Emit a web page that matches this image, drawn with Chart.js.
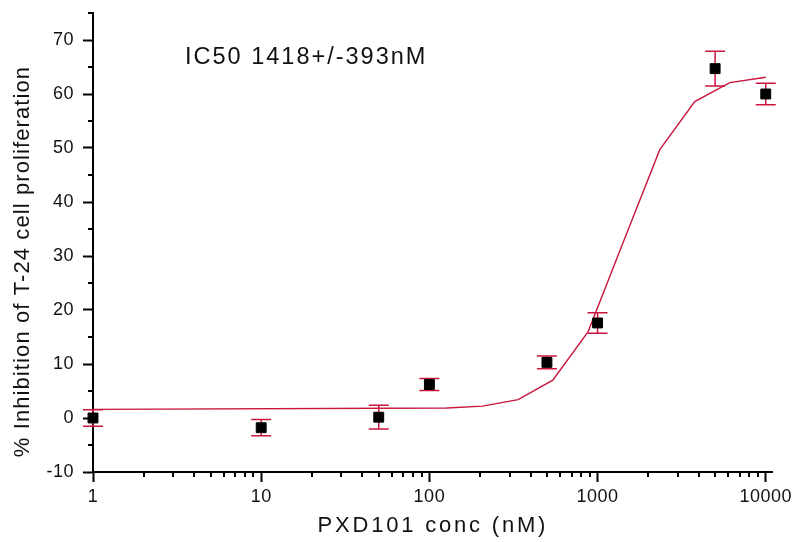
<!DOCTYPE html>
<html><head><meta charset="utf-8">
<script src="https://cdn.jsdelivr.net/npm/chart.js@4.4.1/dist/chart.umd.min.js"></script>
<style>html,body{margin:0;padding:0;background:#fff;overflow:hidden}#wrap{width:795px;height:542px;position:relative}canvas{display:block}</style>
</head><body><div id="wrap"><canvas id="c" width="795" height="542" style="width:795px;height:542px"></canvas></div>
<script>
// ---- data ----
const concentrations = [1, 10, 50, 100, 500, 1000, 5000, 10000];
const inhibition     = [0.0, -1.8, 0.15, 6.2, 10.3, 17.6, 64.7, 60.0];
const inhibitionErr  = [1.55, 1.5, 2.2, 1.1, 1.2, 1.9, 3.2, 2.0];
const fitX = [1, 127, 207, 337, 542, 879, 1440, 2344, 3785, 6110, 10000];
const fitY = [1.6, 1.85, 2.2, 3.4, 7.0, 16.0, 33.0, 49.7, 58.6, 62.1, 63.1];
const xTickValues = [1,2,3,4,5,6,7,8,9,10,20,30,40,50,60,70,80,90,100,200,300,400,500,600,700,800,900,1000,2000,3000,4000,5000,6000,7000,8000,9000,10000];
const xLabelValues = [1, 10, 100, 1000, 10000];
const yTickValues = [-10,-5,0,5,10,15,20,25,30,35,40,45,50,55,60,65,70,75];
const yLabelValues = [-10,0,10,20,30,40,50,60,70];
const xTitle = 'PXD101 conc (nM)';
const yTitle = '% Inhibition of T-24 cell proliferation';
const annotationText = 'IC50 1418+/-393nM';

const RED = '#c8163c';
const FONT = "'Liberation Sans', Arial, Helvetica, sans-serif";
const LS = { x: {labels: '0.5px', title: '2.8px', dy: 0}, y: {labels: '0.5px', title: '1.1px', dy: 19} };

const spacingPlugin = {
  id: 'spacing',
  beforeDraw(chart) {
    Object.values(chart.scales).forEach(s => {
      if (s._lsWrapped) return;
      s._lsWrapped = true;
      const dl = s.drawLabels, dt = s.drawTitle;
      s.drawLabels = function (a) { const c = this.ctx; c.save(); c.letterSpacing = LS[this.id].labels; dl.call(this, a); c.restore(); };
      s.drawTitle = function () { const c = this.ctx; c.save(); c.translate(0, LS[this.id].dy); c.letterSpacing = LS[this.id].title; dt.call(this); c.restore(); };
    });
  }
};

const errorBarPlugin = {
  id: 'errorBars',
  beforeDatasetsDraw(chart) {
    const {ctx, scales: {x, y}} = chart;
    ctx.save();
    ctx.strokeStyle = RED;
    ctx.lineWidth = 1.5;
    concentrations.forEach((c, i) => {
      const px = x.getPixelForValue(c);
      const top = y.getPixelForValue(inhibition[i] + inhibitionErr[i]);
      const bot = y.getPixelForValue(inhibition[i] - inhibitionErr[i]);
      ctx.beginPath();
      ctx.moveTo(px, top); ctx.lineTo(px, bot);
      ctx.moveTo(px - 10, top); ctx.lineTo(px + 10, top);
      ctx.moveTo(px - 10, bot); ctx.lineTo(px + 10, bot);
      ctx.stroke();
    });
    ctx.restore();
  }
};

const minorTickPlugin = {
  id: 'minorTicks',
  afterDraw(chart) {
    const {ctx, scales: {x, y}, chartArea} = chart;
    ctx.save();
    ctx.strokeStyle = '#000';
    ctx.lineWidth = 2;
    xTickValues.filter(v => !xLabelValues.includes(v)).forEach(v => {
      const px = Math.round(x.getPixelForValue(v));
      ctx.beginPath(); ctx.moveTo(px, chartArea.bottom); ctx.lineTo(px, chartArea.bottom + 5); ctx.stroke();
    });
    yTickValues.filter(v => !yLabelValues.includes(v)).forEach(v => {
      const py = Math.round(y.getPixelForValue(v));
      ctx.beginPath(); ctx.moveTo(chartArea.left, py); ctx.lineTo(chartArea.left - 5, py); ctx.stroke();
    });
    // annotation
    ctx.fillStyle = '#111';
    ctx.font = '23.5px ' + FONT;
    ctx.letterSpacing = '2px';
    ctx.textBaseline = 'alphabetic';
    ctx.textAlign = 'left';
    ctx.fillText(annotationText, 185, 63.5);
    ctx.restore();
  }
};

new Chart(document.getElementById('c'), {
  type: 'scatter',
  data: {
    datasets: [
      {
        label: 'measured',
        data: concentrations.map((c, i) => ({x: c, y: inhibition[i]})),
        pointStyle: 'rect',
        pointRadius: 7,
        backgroundColor: '#000',
        borderColor: '#000',
        borderWidth: 1,
        showLine: false,
        clip: false,
        order: 0
      },
      {
        label: 'fit',
        data: fitX.map((c, i) => ({x: c, y: fitY[i]})),
        showLine: true,
        borderColor: RED,
        borderWidth: 1.4,
        pointRadius: 0,
        tension: 0,
        fill: false,
        order: 1
      }
    ]
  },
  options: {
    responsive: false,
    animation: false,
    events: [],
    devicePixelRatio: 1,
    layout: { padding: {left: 0, top: 13, right: 22, bottom: 0} },
    plugins: { legend: {display: false}, tooltip: {enabled: false} },
    scales: {
      x: {
        type: 'logarithmic',
        min: 1,
        max: 11005,
        afterBuildTicks(s) { s.ticks = xTickValues.map(v => ({value: v, major: xLabelValues.includes(v)})); },
        afterFit(s) { s.height = 70; },
        border: {display: true, color: '#000', width: 2},
        grid: {
          display: true, drawOnChartArea: false, tickLength: 10, tickWidth: 2,
          tickColor: ctx => (ctx.tick && xLabelValues.includes(ctx.tick.value)) ? '#000' : 'rgba(0,0,0,0)'
        },
        ticks: {
          autoSkip: false, maxRotation: 0, color: '#111', padding: 4,
          font: {family: FONT, size: 18},
          callback: v => xLabelValues.includes(v) ? String(v) : ''
        },
        title: { display: true, text: xTitle, color: '#111', font: {family: FONT, size: 22}, padding: {top: 0, bottom: 2.5} }
      },
      y: {
        type: 'linear',
        min: -10,
        max: 75,
        afterBuildTicks(s) { s.ticks = yTickValues.map(v => ({value: v})); },
        afterFit(s) { s.width = 93; s.paddingTop = 0; s.paddingBottom = 0; },
        border: {display: true, color: '#000', width: 2},
        grid: {
          display: true, drawOnChartArea: false, tickLength: 10, tickWidth: 2,
          tickColor: ctx => (ctx.tick && yLabelValues.includes(ctx.tick.value)) ? '#000' : 'rgba(0,0,0,0)'
        },
        ticks: {
          autoSkip: false, color: '#111', padding: 9,
          font: {family: FONT, size: 18},
          callback: v => yLabelValues.includes(v) ? String(v) : ''
        },
        title: { display: true, text: yTitle, color: '#111', font: {family: FONT, size: 22}, padding: {top: 10, bottom: 0} }
      }
    }
  },
  plugins: [spacingPlugin, errorBarPlugin, minorTickPlugin]
});
</script>
</body></html>
